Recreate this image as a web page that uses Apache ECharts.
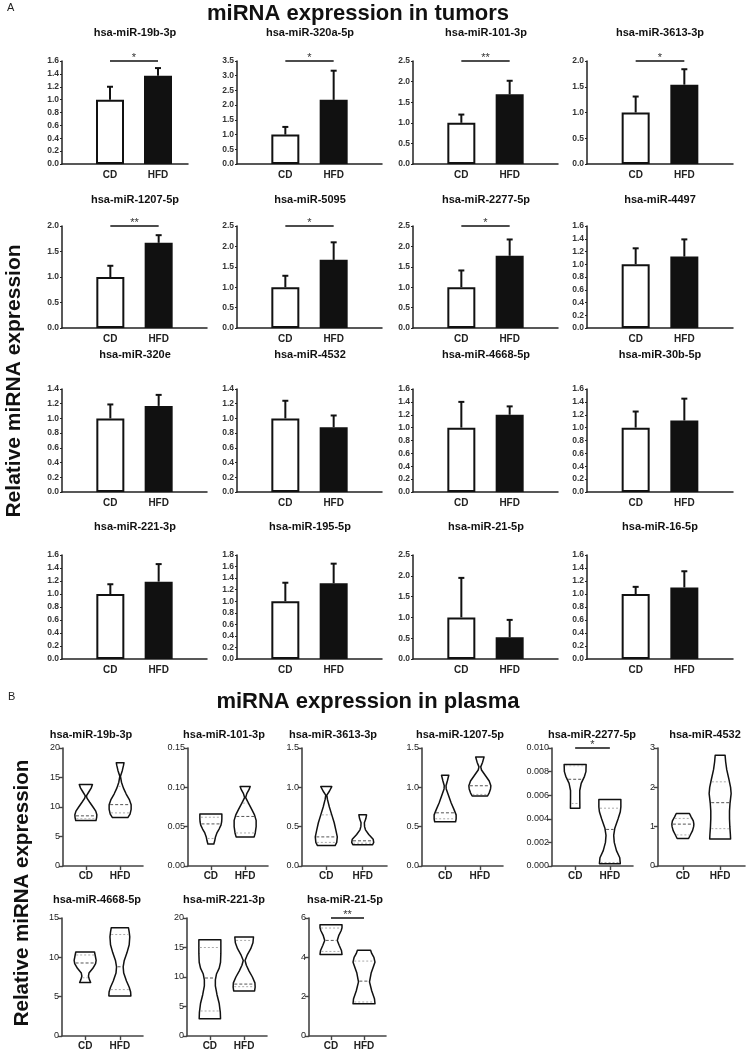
<!DOCTYPE html>
<html><head><meta charset="utf-8">
<script src="https://cdn.jsdelivr.net/npm/echarts@6/dist/echarts.min.js"></script>
<style>html,body{margin:0;padding:0;background:#fff}#c{width:750px;height:1055px}</style>
</head><body><div id="c"></div><script>
const FONT = 'Arial, "Liberation Sans", Helvetica, sans-serif';

// ---------------- Part A: bar charts (mean + SEM) ----------------
const namesA = ['hsa-miR-19b-3p','hsa-miR-320a-5p','hsa-miR-101-3p','hsa-miR-3613-3p',
  'hsa-miR-1207-5p','hsa-miR-5095','hsa-miR-2277-5p','hsa-miR-4497',
  'hsa-miR-320e','hsa-miR-4532','hsa-miR-4668-5p','hsa-miR-30b-5p',
  'hsa-miR-221-3p','hsa-miR-195-5p','hsa-miR-21-5p','hsa-miR-16-5p'];
const yMaxA  = [1.6, 3.5, 2.5, 2.0, 2.0, 2.5, 2.5, 1.6, 1.4, 1.4, 1.6, 1.6, 1.6, 1.8, 2.5, 1.6];
const yStepA = [0.2, 0.5, 0.5, 0.5, 0.5, 0.5, 0.5, 0.2, 0.2, 0.2, 0.2, 0.2, 0.2, 0.2, 0.5, 0.2];
const cdMeanA  = [1.0, 1.0, 1.0, 1.0, 1.0, 1.0, 1.0, 1.0, 1.0, 1.0, 1.0, 1.0, 1.0, 1.0, 1.0, 1.0];
const cdSemA   = [0.20, 0.26, 0.20, 0.31, 0.22, 0.28, 0.41, 0.25, 0.19, 0.24, 0.40, 0.25, 0.15, 0.32, 0.95, 0.11];
const hfdMeanA = [1.37, 2.18, 1.69, 1.54, 1.67, 1.67, 1.77, 1.12, 1.17, 0.88, 1.20, 1.11, 1.19, 1.31, 0.52, 1.10];
const hfdSemA  = [0.12, 0.99, 0.33, 0.30, 0.15, 0.43, 0.40, 0.27, 0.15, 0.16, 0.13, 0.34, 0.27, 0.34, 0.42, 0.25];
const sigA = ['*','*','**','*','**','*','*','','','','','','','','',''];
const groupsA = ['CD', 'HFD'];

// ---------------- Part B: violin plots ----------------
const namesB = ['hsa-miR-19b-3p','hsa-miR-101-3p','hsa-miR-3613-3p','hsa-miR-1207-5p','hsa-miR-2277-5p','hsa-miR-4532',
  'hsa-miR-4668-5p','hsa-miR-221-3p','hsa-miR-21-5p'];
const yMaxB  = [20, 0.15, 1.5, 1.5, 0.010, 3, 15, 20, 6];
const yStepB = [5, 0.05, 0.5, 0.5, 0.002, 1, 5, 5, 2];
const yDecB  = [0, 2, 1, 1, 3, 0, 0, 0, 0];
const sigB = ['', '', '', '', '*', '', '', '', '**'];
const groupsB = ['', '', 'CD', '', '', 'HFD', '', ''];
// violin outlines: [value, relative width] from min to max
const violinCD = [
  [[7.7,0.92],[8.2,0.98],[8.7,1.0],[9.3,0.9],[10.0,0.65],[10.8,0.35],[11.5,0.1],[11.9,0.05],[12.5,0.25],[13.2,0.48],[13.8,0.6]],
  [[0.028,0.27],[0.032,0.35],[0.037,0.42],[0.042,0.55],[0.047,0.75],[0.052,0.92],[0.056,0.98],[0.060,1.0],[0.066,1.0]],
  [[0.26,0.8],[0.30,0.95],[0.37,1.0],[0.45,0.88],[0.55,0.72],[0.65,0.5],[0.75,0.28],[0.85,0.1],[0.9,0.05],[0.95,0.28],[1.01,0.5]],
  [[0.562,0.95],[0.60,1.0],[0.65,1.0],[0.72,0.8],[0.80,0.55],[0.90,0.3],[0.98,0.1],[1.02,0.08],[1.08,0.2],[1.153,0.33]],
  [[0.0049,0.43],[0.0058,0.42],[0.0064,0.42],[0.0070,0.55],[0.0076,0.85],[0.0080,0.98],[0.0086,1.0]],
  [[0.70,0.52],[0.80,0.7],[0.90,0.88],[1.00,0.98],[1.065,1.0],[1.15,0.95],[1.25,0.75],[1.335,0.6]],
  [[6.8,0.5],[7.2,0.38],[7.6,0.3],[8.0,0.35],[8.6,0.7],[9.2,0.95],[9.6,1.0],[10.2,0.92],[10.68,0.85]],
  [[2.94,0.97],[4.0,0.95],[5.5,0.85],[7.0,0.65],[8.5,0.5],[9.5,0.5],[10.5,0.6],[11.5,0.85],[12.5,0.97],[14.0,1.0],[16.33,1.0]],
  [[4.15,1.0],[4.35,0.95],[4.6,0.75],[4.86,0.57],[5.1,0.7],[5.35,0.92],[5.5,1.0],[5.66,1.0]]
];
const violinHFD = [
  [[8.2,0.7],[8.8,0.9],[9.6,1.0],[10.4,1.0],[11.2,0.85],[12.2,0.55],[13.2,0.3],[14.2,0.12],[15.2,0.03],[16.2,0.2],[17.0,0.3],[17.5,0.35]],
  [[0.037,0.82],[0.042,0.92],[0.050,1.0],[0.058,1.0],[0.065,0.85],[0.072,0.6],[0.080,0.3],[0.087,0.05],[0.092,0.15],[0.097,0.35],[0.101,0.46]],
  [[0.27,0.9],[0.30,1.0],[0.34,0.95],[0.40,0.55],[0.46,0.25],[0.50,0.17],[0.55,0.15],[0.60,0.28],[0.65,0.35]],
  [[0.89,0.7],[0.93,0.85],[0.98,0.97],[1.02,1.0],[1.08,0.85],[1.15,0.5],[1.22,0.15],[1.26,0.08],[1.32,0.25],[1.386,0.38]],
  [[0.0002,0.95],[0.0007,0.9],[0.0013,0.6],[0.0020,0.4],[0.0026,0.35],[0.0032,0.45],[0.0040,0.75],[0.0046,0.95],[0.0050,1.0],[0.00563,1.0]],
  [[0.685,0.95],[0.8,0.93],[1.0,0.88],[1.2,0.85],[1.4,0.85],[1.6,0.9],[1.84,1.0],[2.0,0.95],[2.2,0.8],[2.45,0.6],[2.65,0.5],[2.815,0.45]],
  [[5.1,1.0],[5.6,0.98],[6.2,0.85],[7.0,0.6],[8.0,0.35],[8.8,0.3],[9.6,0.4],[10.6,0.65],[11.6,0.85],[12.6,0.9],[13.2,0.85],[13.77,0.78]],
  [[7.63,0.95],[8.3,1.0],[9.0,0.98],[10.0,0.75],[11.0,0.45],[12.0,0.2],[12.8,0.08],[13.8,0.3],[14.8,0.6],[15.8,0.8],[16.78,0.85]],
  [[1.64,1.0],[1.9,0.95],[2.3,0.7],[2.75,0.5],[3.2,0.65],[3.6,0.9],[3.76,1.0],[4.0,0.9],[4.2,0.7],[4.36,0.6]]
];
// quartiles [Q1, median, Q3]
const quartCD = [[8.0,8.5,11.6],[0.035,0.0535,0.062],[0.30,0.37,0.65],[0.60,0.676,0.95],[0.0053,0.00735,0.0085],[0.79,1.065,1.21],[7.4,9.28,10.3],[4.24,9.83,15.0],[4.3,4.86,5.49]];
const quartHFD = [[9.0,10.4,13.5],[0.042,0.063,0.08],[0.29,0.32,0.50],[0.91,1.02,1.22],[0.0003,0.0031,0.0049],[0.95,1.61,2.14],[5.9,8.8,12.9],[8.36,8.8,16.2],[1.73,2.79,3.81]];

// ---------------- layout ----------------
const axisXA = [62, 237, 413, 587];
const gridWA = [126, 145, 145, 146, 145, 145, 145, 146, 145, 145, 145, 146, 145, 145, 145, 146];
const xSpanA = [2.625, 3, 3, 3, 3, 3, 3, 3, 3, 3, 3, 3, 3, 3, 3, 3]; // x-axis extent in group-slot units
const rowTopA = [61, 226, 389, 555], rowBotA = [164, 328, 492, 659];
const titleYA = [33, 200, 355, 527];
const axisXB = [63, 188, 302, 422, 552, 658, 62, 187, 309];
const gridWB = [80, 80, 85, 81, 81, 87, 81, 80, 77];
const rowTopB = [748, 918], rowBotB = [866, 1036];
const titleXB = [91, 224, 333, 460, 592, 705, 97, 224, 345];
const titleYB = [735, 900];
const VH = 11; // violin max half-width (px)

const grids = [], xAxes = [], yAxes = [], series = [], graphics = [];

function txt(x, y, text, size, weight, extra) {
  return Object.assign({type:'text', x, y, silent:true, style:{text, fontSize:size, fontWeight:weight, fontFamily:FONT, fill:'#111',
    textAlign:'center', textVerticalAlign:'middle', align:'center', verticalAlign:'middle'}}, extra || {});
}

const sigText = {};
function sigRender(params, api) {
  const a = api.coord([api.value(0), api.value(2)]);
  const b = api.coord([api.value(1), api.value(2)]);
  return {type:'group', children:[
    {type:'line', shape:{x1:a[0], y1:a[1], x2:b[0], y2:b[1]}, style:{stroke:'#111', lineWidth:1.5}},
    {type:'text', x:(a[0]+b[0])/2, y:a[1]-3, style:{text: sigText[params.seriesIndex] || '', fontSize:11, fontFamily:FONT,
      fill:'#333', textAlign:'center', textVerticalAlign:'middle', align:'center', verticalAlign:'middle'}}
  ]};
}

// ---- Part A panels ----
namesA.forEach((name, i) => {
  const r = Math.floor(i / 4), c = i % 4;
  const slots = groupsA.map((g, k) => k + 1);   // CD -> 1, HFD -> 2
  grids.push({left: axisXA[c], top: rowTopA[r], width: gridWA[i], height: rowBotA[r] - rowTopA[r], outerBoundsMode:'none'});
  xAxes.push({gridIndex: i, type:'value', min:0, max:xSpanA[i],
    axisLine:{onZero:false, lineStyle:{color:'#222', width:1.5}}, axisTick:{show:false},
    axisLabel:{customValues: slots, formatter: v => groupsA[Math.round(v) - 1] || '',
      fontFamily:FONT, fontSize:10, fontWeight:'bold', color:'#222', margin:6}, splitLine:{show:false}});
  yAxes.push({gridIndex: i, type:'value', min:0, max:yMaxA[i], interval:yStepA[i],
    axisLine:{show:true, onZero:false, lineStyle:{color:'#222', width:1.5}}, axisTick:{show:true, length:2, lineStyle:{color:'#222', width:1}},
    axisLabel:{formatter: v => v.toFixed(1), fontFamily:FONT, fontSize:8.5, fontWeight:'bold', color:'#333', margin:3}, splitLine:{show:false}});
  const barData = [
    {value:[slots[0], cdMeanA[i]], itemStyle:{color:'#fff', borderColor:'#111', borderWidth:2}},
    {value:[slots[1], hfdMeanA[i]], itemStyle:{color:'#111', borderColor:'#111', borderWidth:2}}
  ];
  series.push({type:'bar', xAxisIndex:i, yAxisIndex:i, data: barData, barWidth:28, silent:true, animation:false, z:2});
  series.push({type:'custom', xAxisIndex:i, yAxisIndex:i, silent:true, animation:false, z:3,
    data: [[slots[0], cdMeanA[i], cdSemA[i]], [slots[1], hfdMeanA[i], hfdSemA[i]]],
    renderItem(params, api) {
      const p0 = api.coord([api.value(0), api.value(1)]);
      const p1 = api.coord([api.value(0), api.value(1) + api.value(2)]);
      return {type:'group', children:[
        {type:'line', shape:{x1:p0[0], y1:p0[1], x2:p1[0], y2:p1[1]}, style:{stroke:'#111', lineWidth:2}},
        {type:'line', shape:{x1:p1[0]-3, y1:p1[1], x2:p1[0]+3, y2:p1[1]}, style:{stroke:'#111', lineWidth:2}}
      ]};
    }});
  if (sigA[i]) {
    sigText[series.length] = sigA[i];
    series.push({type:'custom', xAxisIndex:i, yAxisIndex:i, silent:true, animation:false, z:3,
      data: [[slots[0], slots[1], yMaxA[i]]], renderItem: sigRender});
  }
  graphics.push(txt(axisXA[c] + 73, titleYA[r], name, 11, 'bold'));
});

// ---- Part B panels ----
function interpW(prof, y) {
  if (y <= prof[0][0]) return prof[0][1];
  for (let k = 1; k < prof.length; k++) {
    if (y <= prof[k][0]) {
      const t = (y - prof[k-1][0]) / (prof[k][0] - prof[k-1][0]);
      return prof[k-1][1] + t * (prof[k][1] - prof[k-1][1]);
    }
  }
  return prof[prof.length-1][1];
}
namesB.forEach((name, j) => {
  const g = grids.length, r = j < 6 ? 0 : 1;
  grids.push({left: axisXB[j], top: rowTopB[r], width: gridWB[j], height: rowBotB[r] - rowTopB[r], outerBoundsMode:'none'});
  xAxes.push({gridIndex: g, type:'category', data: groupsB, boundaryGap:false,
    axisLine:{lineStyle:{color:'#444', width:1.6}},
    axisTick:{show:true, length:4, interval:(idx, val) => val !== '', lineStyle:{color:'#444', width:1.4}},
    axisLabel:{interval:0, fontFamily:FONT, fontSize:10, fontWeight:'bold', color:'#222', margin:5}, splitLine:{show:false}});
  yAxes.push({gridIndex: g, type:'value', min:0, max:yMaxB[j], interval:yStepB[j],
    axisLine:{show:true, lineStyle:{color:'#444', width:1.6}}, axisTick:{show:true, length:4, lineStyle:{color:'#444', width:1.4}},
    axisLabel:{formatter: v => v.toFixed(yDecB[j]), fontFamily:FONT, fontSize:9, color:'#222', margin:3}, splitLine:{show:false}});
  const ci = groupsB.indexOf('CD'), hi = groupsB.indexOf('HFD');
  const profs = [violinCD[j], violinHFD[j]], quarts = [quartCD[j], quartHFD[j]];
  series.push({type:'custom', xAxisIndex:g, yAxisIndex:g, silent:true, animation:false, z:3,
    data: [[ci, violinCD[j][0][0], violinCD[j][violinCD[j].length-1][0]], [hi, violinHFD[j][0][0], violinHFD[j][violinHFD[j].length-1][0]]],
    renderItem(params, api) {
      const prof = profs[params.dataIndex], q = quarts[params.dataIndex];
      const xi = api.value(0);
      const right = [], left = [];
      prof.forEach(([y, w]) => {
        const p = api.coord([xi, y]);
        right.push([p[0] + w * VH, p[1]]);
        left.push([p[0] - w * VH, p[1]]);
      });
      const children = [{type:'polygon', shape:{points: right.concat(left.reverse())},
        style:{fill:'#fff', stroke:'#111', lineWidth:1.5, lineJoin:'round'}}];
      q.forEach((qv, k) => {
        const p = api.coord([xi, qv]);
        const w = interpW(prof, qv) * VH - 1;
        if (w > 1) children.push({type:'line', shape:{x1:p[0]-w, y1:p[1], x2:p[0]+w, y2:p[1]},
          style:{stroke: k === 1 ? '#555' : '#aaa', lineWidth:1, lineDash: k === 1 ? [3,2] : [2,2]}});
      });
      return {type:'group', children};
    }});
  if (sigB[j]) {
    sigText[series.length] = sigB[j];
    series.push({type:'custom', xAxisIndex:g, yAxisIndex:g, silent:true, animation:false, z:3,
      data: [[ci, hi, yMaxB[j]]], renderItem: sigRender});
  }
  graphics.push(txt(titleXB[j], titleYB[r], name, 11, 'bold'));
});

// ---- headings ----
graphics.push({type:'text', x:7, y:8, silent:true, style:{text:'A', fontSize:11, fontFamily:FONT, fill:'#222', textAlign:'left', align:'left', textVerticalAlign:'middle', verticalAlign:'middle'}});
graphics.push({type:'text', x:8, y:697, silent:true, style:{text:'B', fontSize:11, fontFamily:FONT, fill:'#222', textAlign:'left', align:'left', textVerticalAlign:'middle', verticalAlign:'middle'}});
graphics.push(txt(358, 14, 'miRNA expression in tumors', 22, 'bold'));
graphics.push(txt(368, 702, 'miRNA expression in plasma', 22, 'bold'));
graphics.push(txt(14, 381, 'Relative miRNA expression', 21, 'bold', {rotation: Math.PI / 2}));
graphics.push(txt(22, 893, 'Relative miRNA expression', 20.5, 'bold', {rotation: Math.PI / 2}));

const chart = echarts.init(document.getElementById('c'), null, {renderer:'canvas'});
chart.setOption({
  animation:false, backgroundColor:'#fff',
  textStyle:{fontFamily:FONT},
  grid: grids, xAxis: xAxes, yAxis: yAxes, series, graphic: graphics
});
</script></body></html>
